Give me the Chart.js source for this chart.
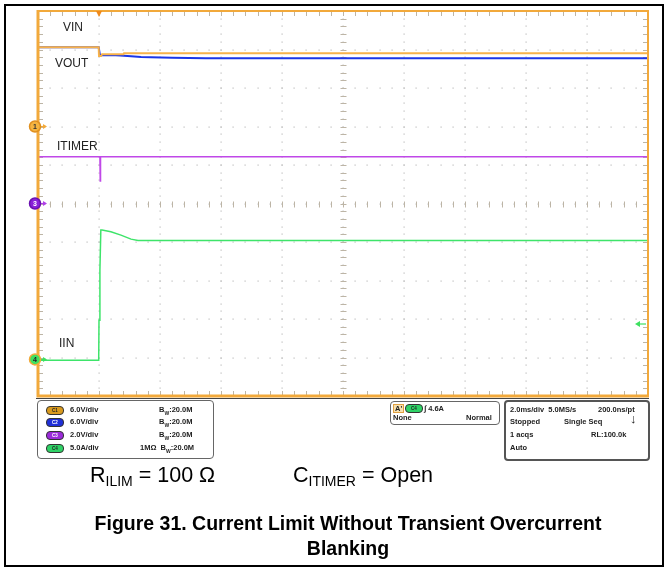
<!DOCTYPE html>
<html>
<head>
<meta charset="utf-8">
<script src="https://cdn.jsdelivr.net/npm/chart.js@4"></script>
<style>
  body{margin:0;background:#fff;font-family:Arial,"Liberation Sans",sans-serif;}
  #wrap{position:relative;width:668px;height:569px;overflow:hidden;background:#fff;}
  #c{position:absolute;left:0;top:0;}
  .abs{position:absolute;white-space:nowrap;}
  .lbl{font-size:12px;color:#222;}
  .box{position:absolute;border:1px solid #666;border-radius:4px;background:#fff;}
  .t{position:absolute;white-space:nowrap;font-size:7.5px;font-weight:bold;color:#222;line-height:9px;}
  .pill{position:absolute;width:16px;height:7px;border-radius:4px;border:1px solid #333;font-size:4.5px;line-height:7px;text-align:center;color:#222;font-weight:bold;}
  .cap{position:absolute;white-space:nowrap;font-size:21.5px;color:#000;}
  .cap sub{font-size:14px;vertical-align:-4px;}
  .title{position:absolute;left:48px;width:600px;text-align:center;font-size:19.5px;font-weight:bold;color:#000;line-height:25px;}
</style>
</head>
<body>
<div id="wrap">
  <canvas id="c" width="668" height="569"></canvas>
  <div class="abs" style="left:4px;top:4px;width:656px;height:559px;border:2px solid #000;"></div>

  <div class="abs lbl" style="left:63px;top:20px;">VIN</div>
  <div class="abs lbl" style="left:55px;top:56px;">VOUT</div>
  <div class="abs lbl" style="left:57px;top:139px;">ITIMER</div>
  <div class="abs lbl" style="left:59px;top:336px;">IIN</div>

  <!-- scope readout panel -->
  <div class="abs" style="left:36px;top:398px;width:613px;height:1px;background:#444;"></div>
  <div class="box" style="left:37px;top:400px;width:175px;height:57px;"></div>
  <div class="pill" style="left:46px;top:406px;background:#d99a1e;">C1</div>
  <div class="pill" style="left:46px;top:418px;background:#1f2fd8;color:#fff;">C2</div>
  <div class="pill" style="left:46px;top:431px;background:#9a2ad8;color:#fff;">C3</div>
  <div class="pill" style="left:46px;top:444px;background:#2fd266;">C4</div>
  <div class="t" style="left:70px;top:405px;">6.0V/div</div>
  <div class="t" style="left:70px;top:417px;">6.0V/div</div>
  <div class="t" style="left:70px;top:430px;">2.0V/div</div>
  <div class="t" style="left:70px;top:443px;">5.0A/div</div>
  <div class="t" style="left:159px;top:405px;">B<sub style="font-size:5px">W</sub>:20.0M</div>
  <div class="t" style="left:159px;top:417px;">B<sub style="font-size:5px">W</sub>:20.0M</div>
  <div class="t" style="left:159px;top:430px;">B<sub style="font-size:5px">W</sub>:20.0M</div>
  <div class="t" style="left:140px;top:443px;">1MΩ&nbsp;&nbsp;B<sub style="font-size:5px">W</sub>:20.0M</div>

  <div class="box" style="left:390px;top:401px;width:108px;height:22px;"></div>
  <div class="t" style="left:393px;top:404px;border:1px solid #e0a040;background:#f6e0b0;padding:0 1px;line-height:7px;">A'</div>
  <div class="pill" style="left:405px;top:404px;background:#2fd266;">C4</div>
  <div class="t" style="left:424px;top:404px;">∫ 4.6A</div>
  <div class="t" style="left:393px;top:413px;">None</div>
  <div class="t" style="left:466px;top:413px;">Normal</div>

  <div class="box" style="left:504px;top:400px;width:142px;height:57px;border:2px solid #555;"></div>
  <div class="t" style="left:510px;top:405px;">2.0ms/div&nbsp;&nbsp;5.0MS/s</div>
  <div class="t" style="left:598px;top:405px;">200.0ns/pt</div>
  <div class="t" style="left:510px;top:417px;">Stopped</div>
  <div class="t" style="left:564px;top:417px;">Single Seq</div>
  <div class="t" style="left:630px;top:414px;font-size:13px;font-weight:900;">↓</div>
  <div class="t" style="left:510px;top:430px;">1 acqs</div>
  <div class="t" style="left:591px;top:430px;">RL:100.0k</div>
  <div class="t" style="left:510px;top:443px;">Auto</div>

  <div class="cap" style="left:90px;top:463px;">R<sub>ILIM</sub> = 100 Ω</div>
  <div class="cap" style="left:293px;top:463px;">C<sub>ITIMER</sub> = Open</div>
  <div class="title" style="top:511px;">Figure 31. Current Limit Without Transient Overcurrent<br>Blanking</div>
</div>
<script>
// time in ms, trigger at t = 0 (2 ms/div, 10 div)
const vinT  = [-2, -0.01, 0, 0.07, 0.1, 0.8, 0.82, 18];
const vinV  = [12.34, 12.34, 11.0, 11.0, 11.25, 11.25, 11.4, 11.4];

const voutT = [-2, -0.01, 0.03, 0.4, 0.7, 1.05, 1.38, 1.7, 2.4, 3.5, 18];
const voutV = [12.34, 12.34, 11.1, 11.15, 11.05, 10.94, 10.83, 10.78, 10.72, 10.65, 10.63];

const itimerT = [-2, 0.03, 0.04, 0.05, 18];
const itimerV = [2.43, 2.43, 1.17, 2.43, 2.43];

const iinT = [-2, -0.01, 0.0, 0.03, 0.06, 0.1, 0.39, 0.72, 1.05, 1.28, 2, 18];
const iinA = [-0.1, -0.1, 5.1, 11.6, 16.8, 16.8, 16.57, 16.14, 15.62, 15.45, 15.45, 15.45];

const trigLevel = 4.6; // A, on C4

// channel settings: units/div and ground position (div from bottom)
const ch1 = {perDiv: 6, ground: 7};
const ch3 = {perDiv: 2, ground: 5};
const ch4 = {perDiv: 5, ground: 0.95};

function pts(t, v){ return t.map((x,i)=>({x, y: v[i]})); }
function range(ch){ return {min: -ch.ground*ch.perDiv, max: (10-ch.ground)*ch.perDiv}; }

const ORANGE = '#f2a93b';

const scope = {
  id: 'scope',
  beforeDatasetsDraw(chart){
    const {ctx} = chart;
    const X = chart.scales.x, G = chart.scales.yg;
    const l = X.left, r = X.right, t = G.top, b = G.bottom;
    const dx = (r-l)/10, dy = (b-t)/10;
    ctx.save();
    ctx.fillStyle = '#bdbdbd';
    // dotted major lines
    for(let i=1;i<10;i++){
      const x = Math.round(l+i*dx);
      for(let k=1;k<50;k++) ctx.fillRect(x-0.5, Math.round(t+k*dy/5)-0.5, 1.2, 1.2);
      const y = Math.round(t+i*dy);
      for(let k=1;k<50;k++) ctx.fillRect(Math.round(l+k*dx/5)-0.5, y-0.5, 1.2, 1.2);
    }
    // center cross ticks and edge ticks
    ctx.strokeStyle = '#bdb5a6';
    ctx.lineWidth = 1;
    const cx = Math.round(l+5*dx)+0.5, cy = Math.round(t+5*dy)+0.5;
    ctx.beginPath();
    for(let k=1;k<50;k++){
      const y = Math.round(t+k*dy/5)+0.5;
      ctx.moveTo(cx-3,y); ctx.lineTo(cx+3,y);
      ctx.moveTo(l,y); ctx.lineTo(l+5,y);
      ctx.moveTo(r-5,y); ctx.lineTo(r,y);
      const x = Math.round(l+k*dx/5)+0.5;
      ctx.moveTo(x,cy-3); ctx.lineTo(x,cy+3);
      ctx.moveTo(x,t); ctx.lineTo(x,t+5);
      ctx.moveTo(x,b-5); ctx.lineTo(x,b);
    }
    ctx.stroke();
    ctx.restore();
  },
  afterDatasetsDraw(chart){
    const {ctx} = chart;
    const X = chart.scales.x, G = chart.scales.yg;
    const l = X.left, r = X.right, t = G.top, b = G.bottom;
    ctx.save();
    // frame
    ctx.strokeStyle = ORANGE;
    ctx.lineWidth = 2;
    ctx.beginPath();
    ctx.moveTo(l,t); ctx.lineTo(r,t); ctx.lineTo(r,b);
    ctx.stroke();
    ctx.lineWidth = 3;
    ctx.beginPath();
    ctx.moveTo(l,t-1); ctx.lineTo(l,b); ctx.lineTo(r+1,b);
    ctx.stroke();
    // trigger position marker
    const tx = X.getPixelForValue(0);
    ctx.fillStyle = '#f08a1c';
    ctx.beginPath();
    ctx.moveTo(tx-3,t); ctx.lineTo(tx+3,t); ctx.lineTo(tx,t+6); ctx.closePath();
    ctx.fill();
    // channel ground markers
    const mk = (y, fill, ring, txt, tcol, arrow) => {
      ctx.strokeStyle = arrow; ctx.fillStyle = arrow; ctx.lineWidth = 1.2;
      ctx.beginPath(); ctx.moveTo(l, y); ctx.lineTo(l+8, y); ctx.stroke();
      ctx.beginPath(); ctx.moveTo(l+9,y); ctx.lineTo(l+5,y-2.5); ctx.lineTo(l+5,y+2.5); ctx.closePath(); ctx.fill();
      ctx.beginPath(); ctx.arc(l-3, y, 5.5, 0, Math.PI*2);
      ctx.fillStyle = fill; ctx.fill();
      ctx.lineWidth = 1.5; ctx.strokeStyle = ring; ctx.stroke();
      ctx.fillStyle = tcol; ctx.font = 'bold 7px Arial'; ctx.textAlign = 'center'; ctx.textBaseline = 'middle';
      ctx.fillText(txt, l-3, y+0.5);
    };
    mk(chart.scales.y1.getPixelForValue(0), '#f5b440', '#e09020', '1', '#333', ORANGE);
    mk(chart.scales.y3.getPixelForValue(0), '#8a1fd8', '#6a10b0', '3', '#fff', '#b040e8');
    mk(chart.scales.y4.getPixelForValue(0), '#3ee060', '#f2a93b', '4', '#222', '#3ee060');
    // trigger level arrow
    const ty = chart.scales.y4.getPixelForValue(trigLevel);
    ctx.strokeStyle = '#3ee060'; ctx.fillStyle = '#3ee060'; ctx.lineWidth = 1.2;
    ctx.beginPath(); ctx.moveTo(r-2, ty); ctx.lineTo(r-10, ty); ctx.stroke();
    ctx.beginPath(); ctx.moveTo(r-13,ty); ctx.lineTo(r-8,ty-3); ctx.lineTo(r-8,ty+3); ctx.closePath(); ctx.fill();
    ctx.restore();
  }
};

new Chart(document.getElementById('c'), {
  type: 'line',
  data: {
    datasets: [
      {label:'VIN', data: pts(vinT, vinV), yAxisID:'y1', borderColor:'#f7b24a', borderWidth:2},
      {label:'VOUT', data: pts(voutT, voutV), yAxisID:'y1', borderColor:'#1a36e8', borderWidth:2},
      {label:'ITIMER', data: pts(itimerT, itimerV), yAxisID:'y3', borderColor:'#c048e8', borderWidth:1.5},
      {label:'IIN', data: pts(iinT, iinA), yAxisID:'y4', borderColor:'#3ee46a', borderWidth:1.5}
    ]
  },
  options: {
    responsive: false,
    animation: false,
    layout: {padding: {left: 38, right: 20, top: 11, bottom: 173}},
    elements: {point: {radius: 0}, line: {tension: 0}},
    plugins: {legend: {display: false}, tooltip: {enabled: false}},
    scales: {
      x: {type: 'linear', min: -2, max: 18, display: false},
      yg: {type: 'linear', min: 0, max: 10, display: false},
      y1: Object.assign({type: 'linear', display: false}, range(ch1)),
      y3: Object.assign({type: 'linear', display: false}, range(ch3)),
      y4: Object.assign({type: 'linear', display: false}, range(ch4))
    }
  },
  plugins: [scope]
});
</script>
</body>
</html>
